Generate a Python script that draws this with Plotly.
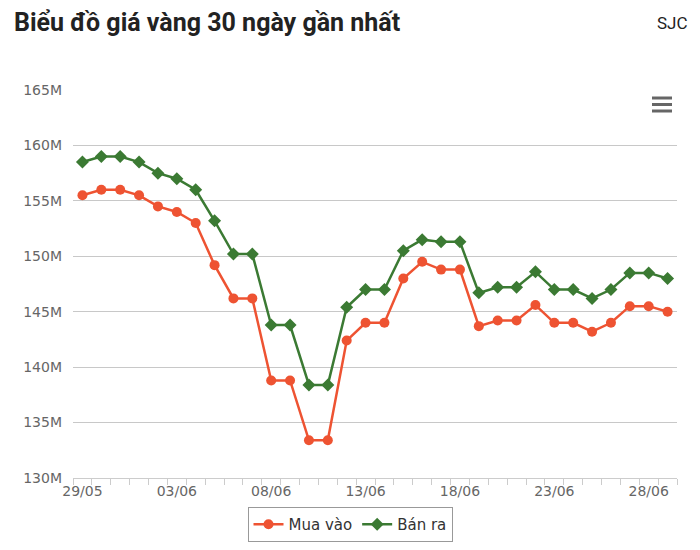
import plotly.graph_objects as go
from datetime import datetime, timedelta

dates = ["29/05", "30/05", "31/05", "01/06", "02/06", "03/06", "04/06", "05/06",
         "06/06", "07/06", "08/06", "09/06", "10/06", "11/06", "12/06", "13/06",
         "14/06", "15/06", "16/06", "17/06", "18/06", "19/06", "20/06", "21/06",
         "22/06", "23/06", "24/06", "25/06", "26/06", "27/06", "28/06", "29/06"]
mua_vao = [155.5, 156.0, 156.0, 155.5, 154.5, 154.0, 153.0, 149.2,
           146.2, 146.2, 138.8, 138.8, 133.4, 133.4, 142.4, 144.0,
           144.0, 148.0, 149.5, 148.8, 148.8, 143.7, 144.2, 144.2,
           145.6, 144.0, 144.0, 143.2, 144.0, 145.5, 145.5, 145.0]
ban_ra = [158.5, 159.0, 159.0, 158.5, 157.5, 157.0, 156.0, 153.2,
          150.2, 150.2, 143.8, 143.8, 138.4, 138.4, 145.4, 147.0,
          147.0, 150.5, 151.5, 151.3, 151.3, 146.7, 147.2, 147.2,
          148.6, 147.0, 147.0, 146.2, 147.0, 148.5, 148.5, 148.0]
y_ticks = [130, 135, 140, 145, 150, 155, 160, 165]
YEAR = 2025

x = [datetime.strptime(d + "/" + str(YEAR), "%d/%m/%Y") for d in dates]
half = timedelta(hours=12)

RED = "#EE5332"
GREEN = "#3B7A33"

fig = go.Figure()
fig.add_trace(go.Scatter(
    x=x, y=mua_vao, name="Mua vào", mode="lines+markers",
    line=dict(color=RED, width=2.5),
    marker=dict(symbol="circle", size=10, color=RED),
))
fig.add_trace(go.Scatter(
    x=x, y=ban_ra, name="Bán ra", mode="lines+markers",
    line=dict(color=GREEN, width=2.5),
    marker=dict(symbol="diamond", size=10, color=GREEN),
))

fig.update_layout(
    width=700, height=550,
    margin=dict(l=73, r=23, t=90, b=72, autoexpand=False),
    paper_bgcolor="white", plot_bgcolor="white",
    font=dict(family="DejaVu Sans", color="#666666"),
    showlegend=True,
    legend=dict(
        orientation="h", xref="container", x=350 / 700, xanchor="center",
        yref="container", y=1 - 507 / 550, yanchor="top",
        bordercolor="#999999", borderwidth=1, bgcolor="white",
        font=dict(family="DejaVu Sans", size=15, color="#333333"),
        itemwidth=30,
    ),
    annotations=[
        dict(text="<b>Biểu đồ giá vàng 30 ngày gần nhất</b>", xref="paper", yref="paper",
             x=-61 / 604, y=1 + 67 / 388, xanchor="left", yanchor="middle", showarrow=False,
             font=dict(family="Roboto", size=25, color="#222222")),
        dict(text="SJC", xref="paper", yref="paper",
             x=1 + 13 / 604, y=1 + 67 / 388, xanchor="right", yanchor="middle", showarrow=False,
             font=dict(family="Roboto", size=17, color="#222222")),
    ],
    shapes=[
        dict(type="line", xref="paper", yref="paper",
             x0=(652 - 73) / 604, x1=(672 - 73) / 604,
             y0=(478 - yy) / 388, y1=(478 - yy) / 388,
             line=dict(color="#666666", width=3))
        for yy in (98, 104.5, 111)
    ],
)

fig.update_xaxes(
    type="date",
    range=[x[0] - half, x[-1] + half],
    tick0=x[0], dtick=5 * 86400000, tickformat="%d/%m",
    ticks="", showgrid=False, zeroline=False,
    showline=True, linecolor="#cccccc", linewidth=1,
    tickfont=dict(family="DejaVu Sans", size=14, color="#666666"),
    minor=dict(tick0=x[0] - half, dtick=86400000, ticks="outside", ticklen=6,
               tickcolor="#cccccc", showgrid=False),
)
fig.update_yaxes(
    range=[130, 165], tickvals=y_ticks, ticktext=[f"{v}M" for v in y_ticks],
    showgrid=True, gridcolor="#c8c8c8", gridwidth=1, zeroline=False,
    showline=False, ticks="", ticklabelstandoff=10,
    tickfont=dict(family="DejaVu Sans", size=14, color="#666666"),
)

fig.write_html("out.html")
